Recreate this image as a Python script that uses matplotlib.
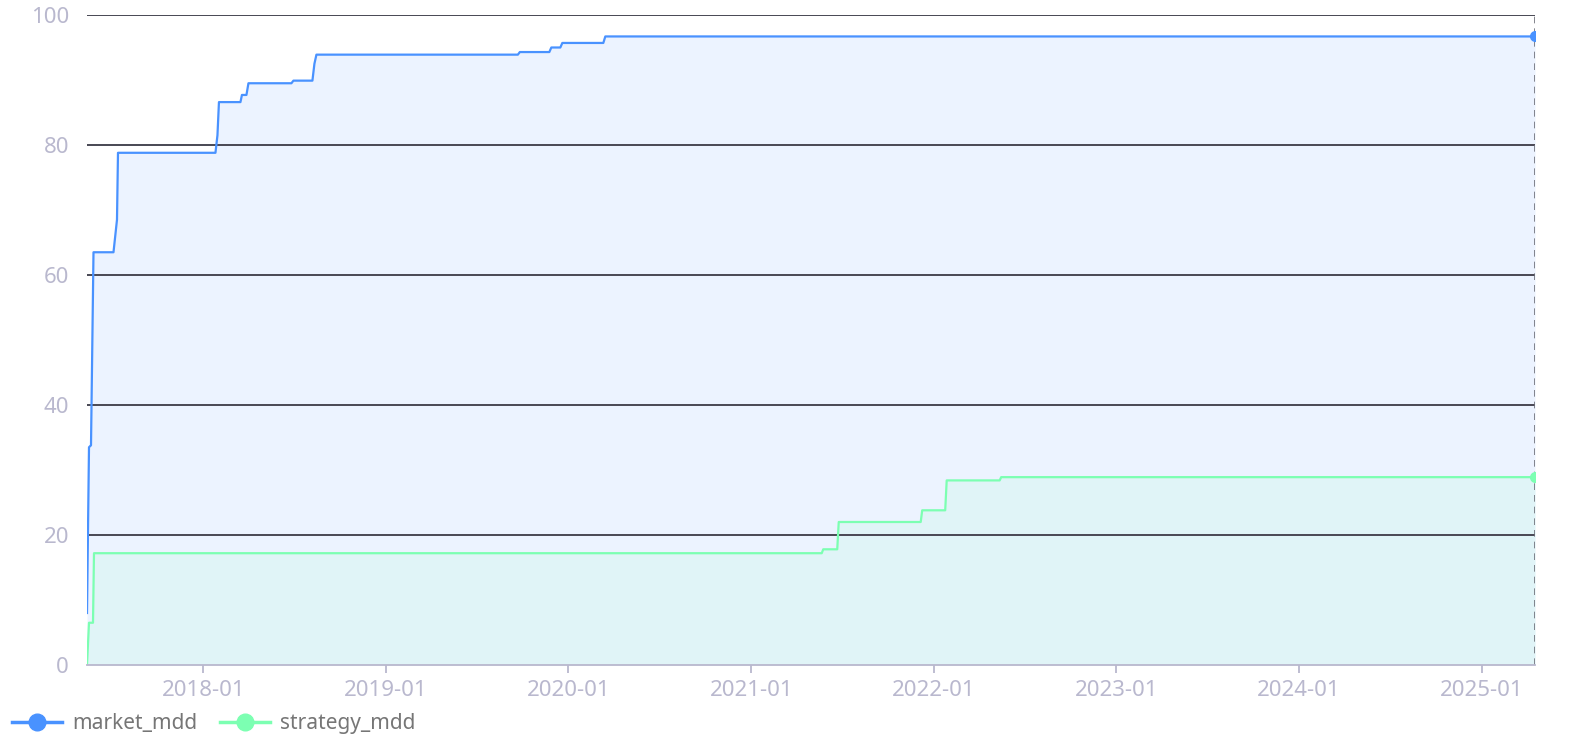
import matplotlib

matplotlib.use("Agg")
import matplotlib.pyplot as plt
import matplotlib.dates as mdates
import numpy as np
from matplotlib.lines import Line2D

# Drawdown vertices (date, percent)
market_dates = [
    "2017-05-13", "2017-05-17", "2017-05-21", "2017-05-26", "2017-07-05",
    "2017-07-12", "2017-07-14", "2018-01-25", "2018-01-29", "2018-02-01",
    "2018-03-16", "2018-03-19", "2018-03-28", "2018-04-01", "2018-06-26",
    "2018-06-30", "2018-08-07", "2018-08-11", "2018-08-15", "2019-09-22",
    "2019-09-26", "2019-11-24", "2019-11-28", "2019-12-16", "2019-12-20",
    "2020-03-11", "2020-03-15", "2025-04-18",
]
market_mdd = [
    8.0, 33.5, 33.8, 63.5, 63.5,
    68.5, 78.8, 78.8, 81.5, 86.6,
    86.6, 87.7, 87.7, 89.5, 89.5,
    89.9, 89.9, 92.5, 93.9, 93.9,
    94.3, 94.3, 95.0, 95.0, 95.7,
    95.7, 96.7, 96.7,
]

strategy_dates = [
    "2017-05-13", "2017-05-17", "2017-05-25", "2017-05-27", "2021-05-22",
    "2021-05-25", "2021-06-22", "2021-06-25", "2021-12-06", "2021-12-09",
    "2022-01-24", "2022-01-27", "2022-05-13", "2022-05-16", "2025-04-18",
]
strategy_mdd = [
    0.0, 6.5, 6.5, 17.2, 17.2,
    17.8, 17.8, 22.0, 22.0, 23.8,
    23.8, 28.4, 28.4, 28.9, 28.9,
]

x_ticks = ["2018-01-01", "2019-01-01", "2020-01-01", "2021-01-01",
           "2022-01-01", "2023-01-01", "2024-01-01", "2025-01-01"]
y_ticks = [0, 20, 40, 60, 80, 100]

MARKET_COLOR = "#4992ff"
STRATEGY_COLOR = "#7cffb2"
GRID_COLOR = "#484753"
AXIS_COLOR = "#b9b8ce"
LEGEND_TEXT = "#767676"

plt.rcParams["font.family"] = ["Noto Sans", "DejaVu Sans"]

m_x = np.array(market_dates, dtype="datetime64[D]")
s_x = np.array(strategy_dates, dtype="datetime64[D]")

fig = plt.figure(figsize=(15.76, 7.52), dpi=100, facecolor="white")
ax = fig.add_axes([87 / 1576, 1 - 665 / 752, (1535 - 87) / 1576, 650 / 752])

ax.fill_between(m_x, market_mdd, 0, color=MARKET_COLOR, alpha=0.1, lw=0, zorder=1)
ax.fill_between(s_x, strategy_mdd, 0, color=STRATEGY_COLOR, alpha=0.1, lw=0, zorder=1)
ax.plot(m_x, market_mdd, color=MARKET_COLOR, lw=1.6, zorder=3)
ax.plot(s_x, strategy_mdd, color=STRATEGY_COLOR, lw=1.6, zorder=3)

# hover pointer at the last day
ax.axvline(m_x[-1], color="#6e7079", lw=1.2, ls=(0, (4, 3)), zorder=4)
ax.plot(m_x[-1], market_mdd[-1], "o", color=MARKET_COLOR, ms=7, zorder=5)
ax.plot(s_x[-1], strategy_mdd[-1], "o", color=STRATEGY_COLOR, ms=7, zorder=5)

ax.set_xlim(m_x[0], m_x[-1])
ax.set_ylim(0, 100)
ax.set_yticks(y_ticks)
ax.set_yticklabels([str(v) for v in y_ticks])
ax.set_xticks(np.array(x_ticks, dtype="datetime64[D]"))
ax.xaxis.set_major_formatter(mdates.DateFormatter("%Y-%m"))

for v in y_ticks[1:]:
    ax.axhline(v, color=GRID_COLOR, lw=1.4, zorder=2)

for side in ["top", "right", "left"]:
    ax.spines[side].set_visible(False)
ax.spines["bottom"].set_color(AXIS_COLOR)
ax.spines["bottom"].set_linewidth(1.3)
ax.spines["bottom"].set_zorder(6)

ax.tick_params(axis="y", length=0, pad=13, labelsize=16, labelcolor=AXIS_COLOR)
ax.tick_params(axis="x", length=6, width=1.3, color=AXIS_COLOR, pad=5,
               labelsize=16, labelcolor=AXIS_COLOR)

handles = [
    Line2D([], [], color=MARKET_COLOR, lw=2.5, marker="o", ms=12),
    Line2D([], [], color=STRATEGY_COLOR, lw=2.5, marker="o", ms=12),
]
fig.legend(
    handles, ["market_mdd", "strategy_mdd"],
    loc="center left", bbox_to_anchor=(12 / 1576, 1 - 724 / 752),
    frameon=False, fontsize=15, labelcolor=LEGEND_TEXT,
    ncol=2, handlelength=2.4, handletextpad=0.48, columnspacing=1.1,
    borderpad=0, borderaxespad=0,
)

fig.savefig("out.png", dpi=100, facecolor="white")
